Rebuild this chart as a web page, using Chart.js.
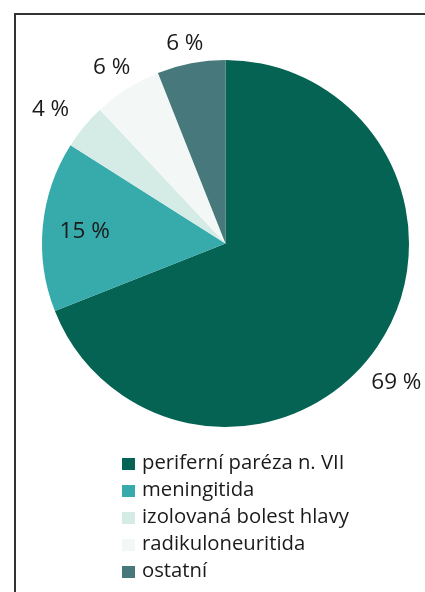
<!DOCTYPE html>
<html>
<head>
<meta charset="utf-8">
<script src="https://cdn.jsdelivr.net/npm/chart.js@4/dist/chart.umd.min.js"></script>
<style>
  html, body { margin: 0; padding: 0; background: #fff; }
  #wrap { position: relative; width: 425px; height: 592px; overflow: hidden; }
  #frame { position: absolute; left: 14px; top: 13px; width: 500px; height: 700px;
           border-left: 2px solid #333; border-top: 2px solid #333; }
  #pie { position: absolute; left: 0; top: 0; }
  #legend { position: absolute; left: 122px; top: 448px; margin: 0; padding: 0; list-style: none;
            font-family: "Open Sans", sans-serif; font-size: 20.3px; color: #1a1a1a; }
  #legend li { height: 27.1px; line-height: 27px; white-space: nowrap; }
  #legend span { display: inline-block; width: 13px; height: 12px; margin-right: 7px; vertical-align: -1px; }
</style>
</head>
<body>
<div id="wrap">
  <div id="frame"></div>
  <canvas id="pie" width="425" height="592"></canvas>
  <ul id="legend"></ul>
</div>
<script>
const labels = ['periferní paréza n. VII', 'meningitida', 'izolovaná bolest hlavy', 'radikuloneuritida', 'ostatní'];
const values = [69, 15, 4, 6, 6];
const pctLabels = ['69 %', '15 %', '4 %', '6 %', '6 %'];
const colors = ['#046352', '#37aaab', '#d5ebe5', '#f3f8f6', '#47787b'];

// label placement: fraction of radius, and small angle nudge (degrees)
const labelDist = [1.20, 0.77, 1.20, 1.142, 1.113];
const labelNudge = [4.9, -0.7, -2.2, -0.5, -0.7];

const pctPlugin = {
  id: 'pctLabels',
  afterDatasetsDraw(chart) {
    const ctx = chart.ctx;
    const meta = chart.getDatasetMeta(0);
    ctx.save();
    ctx.font = '22.5px "Open Sans", sans-serif';
    ctx.fillStyle = '#1a1a1a';
    ctx.textAlign = 'center';
    ctx.textBaseline = 'middle';
    meta.data.forEach((arc, i) => {
      const p = arc.getProps(['x', 'y', 'startAngle', 'endAngle', 'outerRadius'], true);
      const mid = (p.startAngle + p.endAngle) / 2 + labelNudge[i] * Math.PI / 180;
      const r = p.outerRadius * labelDist[i];
      ctx.fillText(pctLabels[i], p.x + Math.cos(mid) * r, p.y + Math.sin(mid) * r);
    });
    ctx.restore();
  }
};

new Chart(document.getElementById('pie'), {
  type: 'pie',
  data: {
    labels: labels,
    datasets: [{
      data: values,
      backgroundColor: colors,
      borderWidth: 0
    }]
  },
  options: {
    responsive: false,
    animation: false,
    layout: { padding: { left: 42, right: 16, top: 60, bottom: 165 } },
    plugins: {
      legend: { display: false },
      tooltip: { enabled: false }
    }
  },
  plugins: [pctPlugin]
});

const ul = document.getElementById('legend');
labels.forEach((l, i) => {
  const li = document.createElement('li');
  const sw = document.createElement('span');
  sw.style.background = colors[i];
  li.appendChild(sw);
  li.appendChild(document.createTextNode(l));
  ul.appendChild(li);
});
</script>
</body>
</html>
